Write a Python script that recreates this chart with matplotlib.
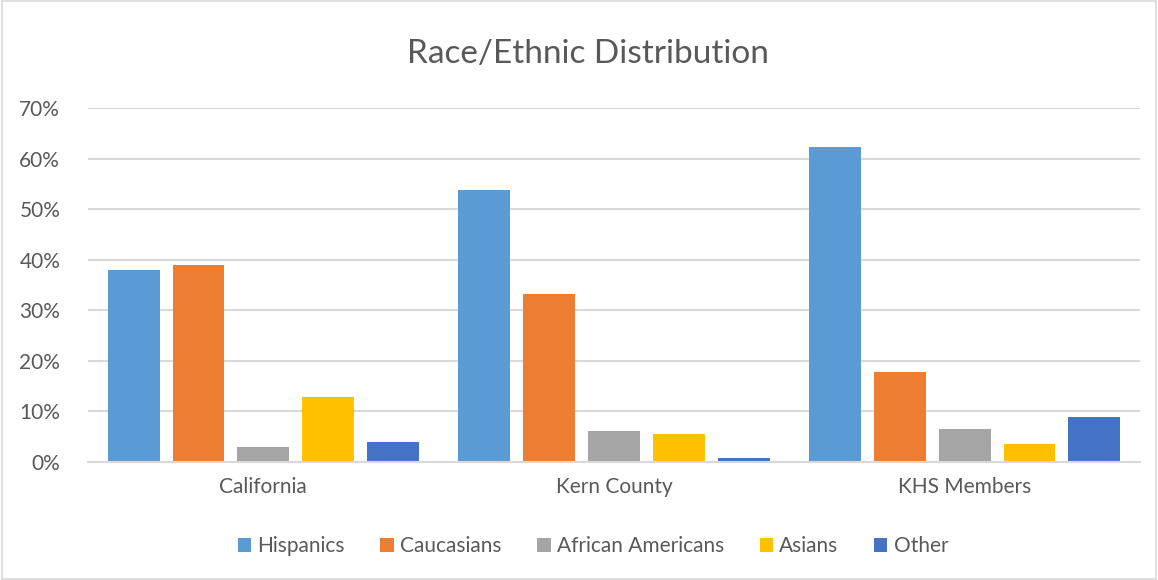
import matplotlib.pyplot as plt
import numpy as np
from matplotlib.patches import Rectangle

# Daten (Anteile in %)
categories = ['California', 'Kern County', 'KHS Members']
series_names = ['Hispanics', 'Caucasians', 'African Americans', 'Asians', 'Other']
hispanics = [37.9, 53.8, 62.3]
caucasians = [38.9, 33.3, 17.8]
african_americans = [2.9, 6.2, 6.5]
asians = [12.9, 5.6, 3.6]
other = [3.9, 0.7, 8.9]
y_ticks = [0, 10, 20, 30, 40, 50, 60, 70]

colors = ['#5b9bd5', '#ed7d31', '#a5a5a5', '#ffc000', '#4472c4']
text_color = '#595959'
grid_color = '#d9d9d9'

plt.rcParams['font.family'] = ['Lato', 'DejaVu Sans']

fig = plt.figure(figsize=(11.58, 5.8), dpi=100)
ax = fig.add_axes([88 / 1158, 1 - 462 / 580, (1140 - 88) / 1158, (462 - 108) / 580])

values = [hispanics, caucasians, african_americans, asians, other]
x = np.arange(len(categories))
step = 0.185
width = 0.148
for i, (name, vals) in enumerate(zip(series_names, values)):
    ax.bar(x + (i - 2) * step, vals, width=width, color=colors[i], label=name, zorder=3)

ax.set_xlim(-0.5, 2.5)
ax.set_ylim(0, 70)
ax.set_yticks(y_ticks)
ax.set_yticklabels([f'{t}%' for t in y_ticks])
ax.set_xticks(x)
ax.set_xticklabels(categories)
ax.yaxis.grid(True, color=grid_color, linewidth=1.5, zorder=0)
ax.tick_params(axis='both', length=0, labelsize=15, colors=text_color)
ax.tick_params(axis='y', pad=20)
ax.tick_params(axis='x', pad=11)
for side in ['top', 'right', 'left']:
    ax.spines[side].set_visible(False)
ax.spines['bottom'].set_color(grid_color)
ax.spines['bottom'].set_linewidth(1.5)
ax.spines['bottom'].set_zorder(4)

fig.text(0.508, 1 - 54 / 580, 'Race/Ethnic Distribution', ha='center', va='center',
         fontsize=24, color=text_color)

leg = fig.legend(loc='center', bbox_to_anchor=(593 / 1158, 1 - 546 / 580), ncol=5,
                 frameon=False, fontsize=15, handlelength=0.65, handleheight=0.65,
                 handletextpad=0.3, columnspacing=1.7)
for t in leg.get_texts():
    t.set_color(text_color)

# Rahmen um die ganze Grafik
fig.patches.append(Rectangle((0.002, 0.002), 0.996, 0.996, transform=fig.transFigure,
                             fill=False, edgecolor=grid_color, linewidth=1.2))

fig.savefig('out.png', dpi=100)
